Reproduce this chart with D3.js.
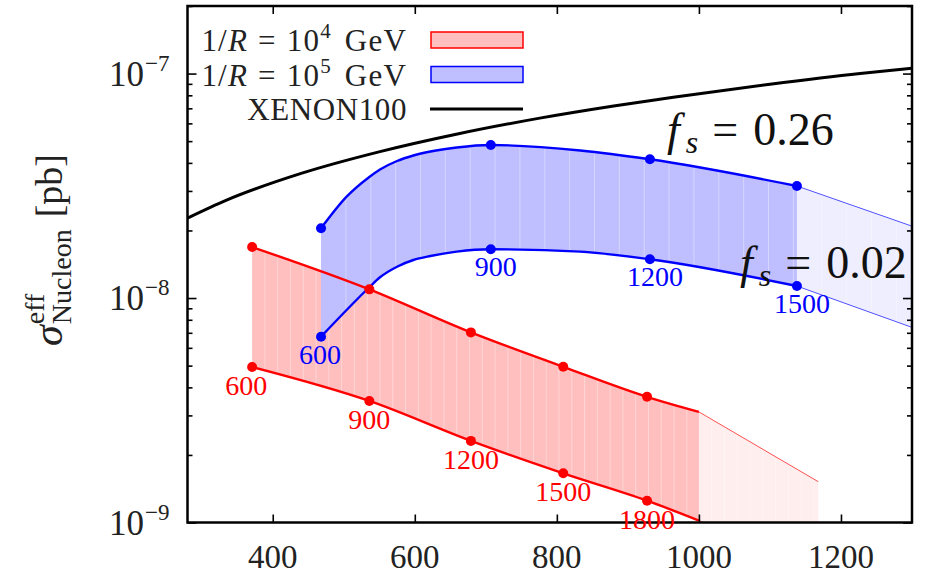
<!DOCTYPE html>
<html>
<head>
<meta charset="utf-8">
<script src="https://cdn.jsdelivr.net/npm/d3@7"></script>
<style>
  body { margin: 0; background: #fff; }
  svg { display: block; }
  text { font-family: "Liberation Serif", "DejaVu Serif", serif; }
</style>
</head>
<body>
<div id="chart"></div>
<script>
// ---- values ----
// XENON100 limit
const xenonX = [280, 335, 440, 551, 660, 776, 880, 964, 1100, 1227, 1300];
const xenonY = [2.27e-8, 2.73e-8, 3.59e-8, 4.49e-8, 5.38e-8, 6.33e-8, 7.17e-8, 7.85e-8, 8.96e-8, 1.0e-7, 1.055e-7];

// 1/R = 10^5 GeV band (upper edge fs = 0.26, lower edge fs = 0.02)
const blueX  = [468, 504, 536, 551, 575, 598, 622, 659, 707, 833, 931, 1138];
const blueUp = [2.045e-8, 2.828e-8, 3.462e-8, 3.738e-8, 4.078e-8, 4.315e-8, 4.496e-8, 4.684e-8, 4.805e-8, 4.542e-8, 4.150e-8, 3.156e-8];
const blueLo = [6.726e-9, 8.846e-9, 1.117e-8, 1.237e-8, 1.379e-8, 1.477e-8, 1.539e-8, 1.609e-8, 1.649e-8, 1.609e-8, 1.488e-8, 1.131e-8];
const blueMarkX  = [468, 707, 931, 1138];
const blueMarkUp = [2.045e-8, 4.805e-8, 4.150e-8, 3.156e-8];
const blueMarkLo = [6.726e-9, 1.649e-8, 1.488e-8, 1.131e-8];
const blueLabels = ["600", "900", "1200", "1500"];
const blueExtX  = [1138, 1300];
const blueExtUp = [3.156e-8, 2.09e-8];
const blueExtLo = [1.131e-8, 7.4e-9];

// 1/R = 10^4 GeV band
const redX  = [371, 536, 679, 809, 927, 1000];
const redUp = [1.687e-8, 1.093e-8, 7.03e-9, 4.94e-9, 3.63e-9, 3.11e-9];
const redLo = [4.93e-9, 3.48e-9, 2.31e-9, 1.656e-9, 1.251e-9, 1.02e-9];
const redMarkX  = [371, 536, 679, 809, 927];
const redMarkUp = [1.687e-8, 1.093e-8, 7.03e-9, 4.94e-9, 3.63e-9];
const redMarkLo = [4.93e-9, 3.48e-9, 2.31e-9, 1.656e-9, 1.251e-9];
const redLabels = ["600", "900", "1200", "1500", "1800"];
const redExtX  = [1000, 1168];
const redExtUp = [3.11e-9, 1.52e-9];
const redExtLo = [1.02e-9, 6e-10];

const xTicks = [400, 600, 800, 1000, 1200];
const yMajor = [1e-9, 1e-8, 1e-7];
const yExp = ["−9", "−8", "−7"];

// ---- layout ----
var margin = { top: 6, right: 14, bottom: 54.5, left: 187.5 };
var width = 926 - margin.left - margin.right;
var height = 577 - margin.top - margin.bottom;

var root = d3.select("#chart").append("svg")
    .attr("width", 926)
    .attr("height", 577);

var svg = root.append("g")
    .attr("transform", "translate(" + margin.left + "," + margin.top + ")");

var x = d3.scaleLinear().domain([280, 1300]).range([0, width]);
var y = d3.scaleLog().domain([1e-9, 2e-7]).range([height, 0]);

root.append("defs").append("clipPath").attr("id", "plotclip")
    .append("rect").attr("width", width).attr("height", height);

var plot = svg.append("g").attr("clip-path", "url(#plotclip)");

function band(xs, up, lo) {
    return xs.map((d, i) => ({ x: d, up: up[i], lo: lo[i] }));
}
var area = d3.area()
    .x(d => x(d.x)).y0(d => y(d.lo)).y1(d => y(d.up))
    .curve(d3.curveMonotoneX);
var lineUp = d3.line().x(d => x(d.x)).y(d => y(d.up)).curve(d3.curveMonotoneX);
var lineLo = d3.line().x(d => x(d.x)).y(d => y(d.lo)).curve(d3.curveMonotoneX);

var redBand = band(redX, redUp, redLo);
var redExt = band(redExtX, redExtUp, redExtLo);
var blueBand = band(blueX, blueUp, blueLo);
var blueExt = band(blueExtX, blueExtUp, blueExtLo);

// fills, with the faint vertical striping of the original
function fillBand(data, color, id, step) {
    plot.append("path").datum(data).attr("fill", color).attr("d", area);
    root.select("defs").append("clipPath").attr("id", id)
        .append("path").datum(data).attr("d", area);
    var g = plot.append("g").attr("clip-path", "url(#" + id + ")");
    var x0 = data[0].x, x1 = data[data.length - 1].x;
    g.selectAll("line").data(d3.range(x0 + step, x1, step)).join("line")
        .attr("x1", d => x(d)).attr("x2", d => x(d))
        .attr("y1", 0).attr("y2", height)
        .attr("stroke", "#fff").attr("stroke-opacity", 0.35).attr("stroke-width", 1);
}
fillBand(redExt, "#ffeeee", "cRedExt", 18);
fillBand(redBand, "#ffbfbf", "cRed", 18);
fillBand(blueExt, "#eeeeff", "cBlueExt", 35);
fillBand(blueBand, "#bfbfff", "cBlue", 35);

// edges
function edges(data, color, w) {
    plot.append("path").datum(data).attr("fill", "none").attr("stroke", color)
        .attr("stroke-width", w).attr("d", lineUp);
    plot.append("path").datum(data).attr("fill", "none").attr("stroke", color)
        .attr("stroke-width", w).attr("d", lineLo);
}
edges(redExt, "#ff5050", 1);
edges(blueExt, "#5050ff", 1);
edges(redBand, "#ff0000", 2.4);
edges(blueBand, "#0000ff", 2.4);

// XENON100
plot.append("path").datum(xenonX.map((d, i) => [d, xenonY[i]]))
    .attr("fill", "none").attr("stroke", "#000").attr("stroke-width", 3)
    .attr("d", d3.line().x(d => x(d[0])).y(d => y(d[1])).curve(d3.curveMonotoneX));

// markers and mass labels
var labelLayer = svg.append("g");
function marks(xs, up, lo, labels, color, dx, dy) {
    var pts = xs.map((d, i) => ({ x: d, up: up[i], lo: lo[i], t: labels[i] }));
    plot.selectAll(null).data(pts).join("circle")
        .attr("cx", d => x(d.x)).attr("cy", d => y(d.up)).attr("r", 5).attr("fill", color);
    plot.selectAll(null).data(pts).join("circle")
        .attr("cx", d => x(d.x)).attr("cy", d => y(d.lo)).attr("r", 5).attr("fill", color);
    labelLayer.selectAll(null).data(pts).join("text")
        .attr("x", (d, i) => x(d.x) + dx - (i === 0 ? 6 : 0)).attr("y", d => y(d.lo) + dy)
        .attr("text-anchor", "middle").attr("font-size", 28).attr("fill", color)
        .text(d => d.t);
}
marks(redMarkX, redMarkUp, redMarkLo, redLabels, "#ff0000", 0, 28);
marks(blueMarkX, blueMarkUp, blueMarkLo, blueLabels, "#0000ff", 5, 27);

// fs annotations
function fsLabel(g, px, py, val) {
    var t = g.append("text").attr("x", px).attr("y", py).attr("font-size", 46).attr("fill", "#111");
    t.append("tspan").attr("font-style", "italic").text("f");
    t.append("tspan").attr("font-style", "italic").attr("font-size", 32).attr("dx", 6).attr("dy", 8).text("s");
    t.append("tspan").attr("dx", 14).attr("dy", -8).text("=");
    t.append("tspan").attr("dx", 15).text(val);
}
fsLabel(labelLayer, 667 - margin.left, 145 - margin.top, "0.26");
fsLabel(plot, 740 - margin.left, 278 - margin.top, "0.02");

// ---- axes ----
function styleAxis(g) {
    g.select(".domain").remove();
    g.selectAll(".tick line").attr("stroke", "#000").attr("stroke-width", 1.6);
    g.selectAll(".tick text").remove();
}
svg.append("g").attr("transform", "translate(0," + height + ")")
    .call(d3.axisBottom(x).tickValues(xTicks).tickSize(-8)).call(styleAxis);
svg.append("g")
    .call(d3.axisTop(x).tickValues(xTicks).tickSize(-8)).call(styleAxis);

var yMinor = y.ticks().filter(d => yMajor.indexOf(d) < 0);
svg.append("g").call(d3.axisLeft(y).tickValues(yMajor).tickSize(-9)).call(styleAxis);
svg.append("g").call(d3.axisLeft(y).tickValues(yMinor).tickSize(-5)).call(styleAxis);
svg.append("g").attr("transform", "translate(" + width + ",0)")
    .call(d3.axisRight(y).tickValues(yMajor).tickSize(-9)).call(styleAxis);
svg.append("g").attr("transform", "translate(" + width + ",0)")
    .call(d3.axisRight(y).tickValues(yMinor).tickSize(-5)).call(styleAxis);

svg.append("rect").attr("width", width).attr("height", height)
    .attr("fill", "none").attr("stroke", "#000").attr("stroke-width", 2.5);

// bring labels above the frame
labelLayer.raise();

// tick labels
svg.selectAll(null).data(xTicks).join("text")
    .attr("x", d => x(d)).attr("y", height + 45)
    .attr("text-anchor", "middle").attr("font-size", 33).attr("fill", "#222")
    .text(d => d);

yMajor.forEach(function (v, i) {
    var t = svg.append("text").attr("x", -18).attr("y", y(v) + 12)
        .attr("text-anchor", "end").attr("font-size", 35).attr("fill", "#222");
    t.append("tspan").text("10");
    t.append("tspan").attr("font-size", 23).attr("dx", 1).attr("dy", -15).text(yExp[i]);
});

// y axis title
var tg = root.append("g").attr("transform", "translate(62,250) rotate(-90)");
var inner = tg.append("g").attr("fill", "#222");
var sig = inner.append("text").attr("font-size", 42).attr("font-style", "italic").text("σ");
var sw = sig.node().getComputedTextLength() + 1;
var sup = inner.append("text").attr("x", sw).attr("y", -18).attr("font-size", 28).text("eff");
var sub = inner.append("text").attr("x", sw).attr("y", 9).attr("font-size", 28).text("Nucleon");
var scw = Math.max(sup.node().getComputedTextLength(), sub.node().getComputedTextLength());
var pb = inner.append("text").attr("x", sw + scw + 12).attr("font-size", 38).text("[pb]");
var total = sw + scw + 12 + pb.node().getComputedTextLength();
inner.attr("transform", "translate(" + (-total / 2) + ",0)");

// ---- legend ----
var leg = root.append("g");
var legRows = [
    { kind: "band", fill: "#ffbfbf", stroke: "#ff0000", exp: "4", y: 40 },
    { kind: "band", fill: "#bfbfff", stroke: "#0000ff", exp: "5", y: 74.5 },
    { kind: "line", stroke: "#000", y: 109 }
];
legRows.forEach(function (r) {
    var t = leg.append("text").attr("x", 407).attr("y", r.y + 11)
        .attr("text-anchor", "end").attr("font-size", 31)
        .attr("fill", "#222");
    if (r.kind === "band") {
        t.attr("letter-spacing", 1.2);
        t.append("tspan").text("1/");
        t.append("tspan").attr("font-style", "italic").text("R");
        t.append("tspan").attr("dx", 10).text("=");
        t.append("tspan").attr("dx", 10).text("10");
        t.append("tspan").attr("font-size", 21).attr("dy", -13).text(r.exp);
        t.append("tspan").attr("dx", 13).attr("dy", 13).text("GeV");
        leg.append("rect").attr("x", 431).attr("y", r.y - 8).attr("width", 92).attr("height", 16)
            .attr("fill", r.fill).attr("stroke", r.stroke).attr("stroke-width", 1.5);
    } else {
        t.attr("letter-spacing", 0.6).text("XENON100");
        leg.append("line").attr("x1", 430).attr("x2", 523).attr("y1", r.y).attr("y2", r.y)
            .attr("stroke", r.stroke).attr("stroke-width", 3);
    }
});
</script>
</body>
</html>
